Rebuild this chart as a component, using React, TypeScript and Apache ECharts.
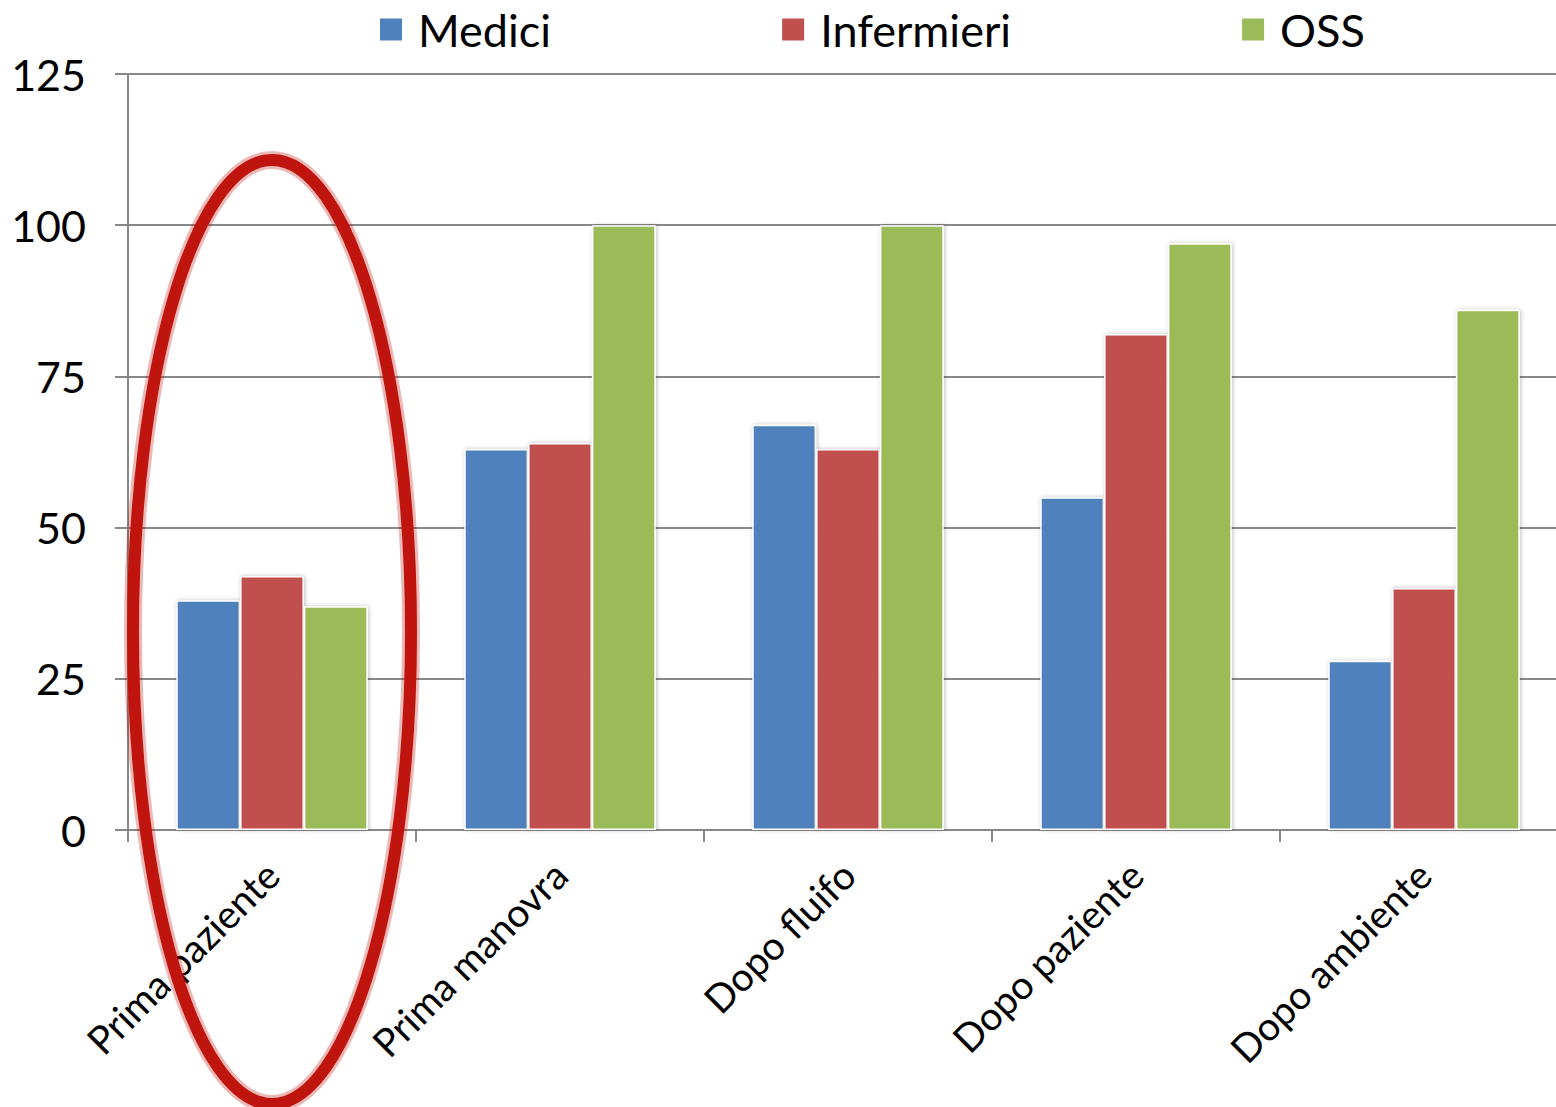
import React, { useEffect, useRef } from "react";
import * as echarts from "echarts";

const categories = ["Prima paziente", "Prima manovra", "Dopo fluifo", "Dopo paziente", "Dopo ambiente"];
const seriesNames = ["Medici", "Infermieri", "OSS"];
const medici = [38, 63, 67, 55, 28];
const infermieri = [42, 64, 63, 82, 40];
const oss = [37, 100, 100, 97, 86];
const colors = ["#4f81bd", "#c0504d", "#9bbb59"];

const FONT = "Lato";

export default function App() {
  const ref = useRef<HTMLDivElement>(null);
  useEffect(() => {
    if (!ref.current) return;
    const chart = echarts.init(ref.current, undefined, { renderer: "svg" });
    const values = [medici, infermieri, oss];
    chart.setOption({
      animation: false,
      backgroundColor: "#ffffff",
      textStyle: { fontFamily: FONT },
      legend: {
        top: 2,
        left: 373,
        itemGap: 229,
        itemWidth: 24,
        itemHeight: 24,
        icon: "rect",
        textStyle: { fontSize: 45, color: "#000", fontFamily: FONT, padding: [0, 0, 0, 10] },
        data: seriesNames,
      },
      grid: { left: 128, top: 74, bottom: 277, right: 2, containLabel: false },
      xAxis: {
        type: "category",
        data: categories,
        axisLine: { lineStyle: { color: "#888", width: 2 } },
        axisTick: { show: true, length: 12, lineStyle: { color: "#888", width: 2 } },
        axisLabel: { rotate: 45, fontSize: 39, color: "#000", margin: 38, fontFamily: FONT, interval: 0 },
      },
      yAxis: {
        type: "value",
        min: 0,
        max: 125,
        interval: 25,
        axisLine: { show: true, lineStyle: { color: "#888", width: 2 } },
        axisTick: { show: true, length: 13, lineStyle: { color: "#888", width: 2 } },
        splitLine: { show: true, lineStyle: { color: "#888", width: 2 } },
        axisLabel: { fontSize: 43, color: "#000", margin: 42, fontFamily: FONT },
      },
      series: seriesNames.map((name, i) => ({
        name,
        type: "bar",
        data: values[i],
        barGap: "0%",
        barCategoryGap: "33.5%",
        itemStyle: {
          color: colors[i],
          borderColor: "#ffffff",
          borderWidth: 1.5,
          shadowBlur: 4,
          shadowColor: "rgba(0,0,0,0.25)",
          shadowOffsetX: 1,
        },
      })),
      graphic: [
        {
          type: "ellipse",
          shape: { cx: 272, cy: 632, rx: 139, ry: 472 },
          style: { fill: "none", stroke: "rgba(192,22,15,0.3)", lineWidth: 18 },
          z: 100,
        },
        {
          type: "ellipse",
          shape: { cx: 272, cy: 632, rx: 139, ry: 472 },
          style: { fill: "none", stroke: "#bf150e", lineWidth: 12 },
          z: 101,
        },
      ],
    });
    return () => chart.dispose();
  }, []);
  return (
    <div style={{ position: "absolute", left: 0, top: 0, width: 1556, height: 1107, overflow: "hidden" }}>
      <div ref={ref} style={{ width: 1570, height: 1107 }} />
    </div>
  );
}
